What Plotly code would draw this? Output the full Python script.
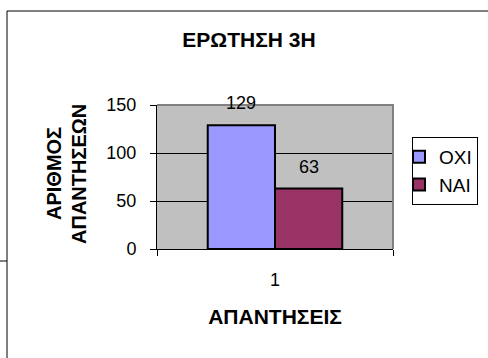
import plotly.graph_objects as go

categories = ["1"]
series_names = ["ΟΧΙ", "ΝΑΙ"]
series_values = [[129], [63]]
series_colors = ["#9999FF", "#993366"]
y_ticks = [0, 50, 100, 150]

W, H = 488, 358
L, R, T, B = 157, 95, 105, 109
pw, ph = W - L - R, H - T - B

def px(x):
    return (x - L) / pw

def py(y):
    return (H - B - y) / ph

FONT = "Liberation Sans, Arial, sans-serif"

fig = go.Figure()
for name, vals, col in zip(series_names, series_values, series_colors):
    fig.add_trace(go.Bar(
        x=categories, y=vals, name=name,
        marker=dict(color=col, line=dict(color="black", width=2)),
    ))

# data labels
nser = len(series_names)
for i, (vals, name) in enumerate(zip(series_values, series_names)):
    for ci, v in enumerate(vals):
        fig.add_annotation(
            x=ci, y=v, xref="x", yref="y", text=str(v), showarrow=False,
            xshift=(i - (nser - 1) / 2) * 68, yanchor="bottom", yshift=10,
            font=dict(family=FONT, size=18, color="black"),
        )

fig.update_layout(
    width=W, height=H,
    margin=dict(l=L, r=R, t=T, b=B, pad=0, autoexpand=False),
    paper_bgcolor="white", plot_bgcolor="#C0C0C0",
    barmode="group", bargap=0.43, bargroupgap=0,
    font=dict(family=FONT, size=18, color="black"),
    showlegend=True,
    legend=dict(
        x=px(412), y=py(137), xanchor="left", yanchor="top",
        bordercolor="black", borderwidth=1, bgcolor="white",
        font=dict(family=FONT, size=19), itemwidth=30, tracegroupgap=0,
        indentation=-14,
    ),
    title=dict(text="<b>ΕΡΩΤΗΣΗ 3Η</b>", xref="container", x=249 / W, xanchor="center",
               yref="container", y=1 - 40 / H, yanchor="middle",
               font=dict(family=FONT, size=21)),
    xaxis=dict(
        type="category", showline=True, linecolor="black", linewidth=1,
        ticks="outside", ticklen=6, tickcolor="black", tickson="boundaries",
        ticklabelstandoff=14, showgrid=False, mirror=False,
        title=dict(text="<b>ΑΠΑΝΤΗΣΕΙΣ</b>", font=dict(family=FONT, size=21), standoff=20),
    ),
    yaxis=dict(
        range=[0, 150], tickvals=y_ticks, showline=True, linecolor="black", linewidth=1,
        ticks="outside", ticklen=6, tickcolor="black", ticklabelstandoff=10,
        showgrid=True, gridcolor="black", gridwidth=1, zeroline=False,
    ),
)

for txt, xc in (("ΑΡΙΘΜΟΣ", 54), ("ΑΠΑΝΤΗΣΕΩΝ", 79)):
    fig.add_annotation(
        text=f"<b>{txt}</b>", textangle=-90, showarrow=False,
        xref="paper", yref="paper", x=px(xc), y=py(174), xanchor="center", yanchor="middle",
        font=dict(family=FONT, size=20),
    )

# plot area border (top/right gray)
fig.add_shape(type="path", xref="paper", yref="paper",
              path="M 0 1 L 1 1 L 1 0", line=dict(color="#808080", width=2), layer="above")
# outer chart frame
fig.add_shape(type="path", xref="paper", yref="paper",
              path=f"M {px(510)} {py(11)} L {px(7)} {py(11)} L {px(7)} {py(380)}",
              line=dict(color="black", width=1))
fig.add_shape(type="line", xref="paper", yref="paper",
              x0=px(0), x1=px(7), y0=py(261), y1=py(261), line=dict(color="black", width=1))

fig.write_html("out.html", config={"displayModeBar": False},
               post_script="document.body.style.margin='0';document.body.style.overflow='hidden';")
